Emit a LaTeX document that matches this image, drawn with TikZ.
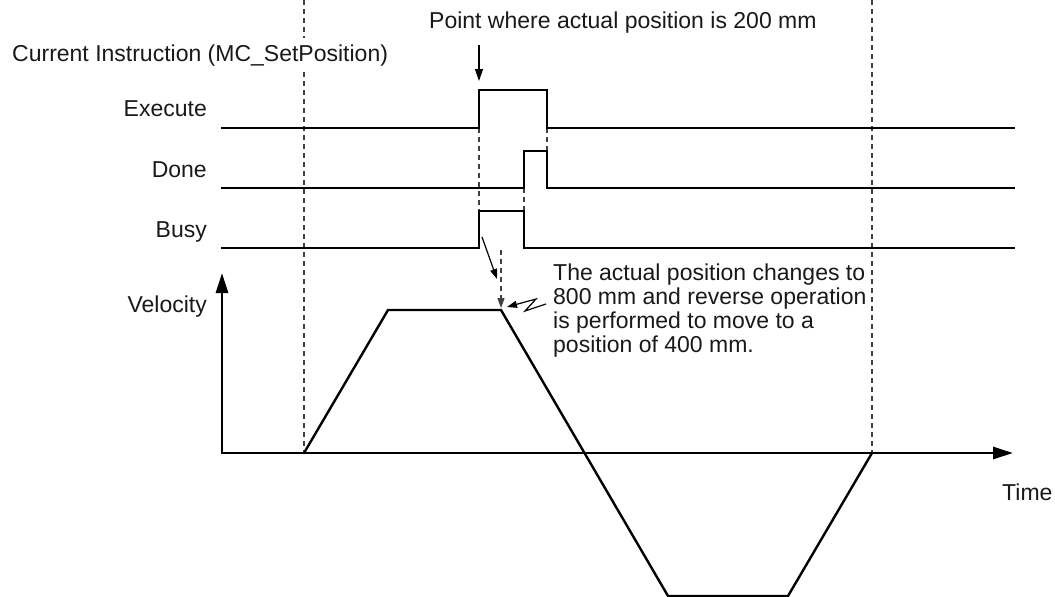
\documentclass[tikz,border=0pt]{standalone}
\usepackage{fontspec}
\setmainfont{Liberation Sans}
\usetikzlibrary{arrows.meta}
\begin{document}
\begin{tikzpicture}[x=1pt,y=-1pt,
  sig/.style={line width=2.4pt, line join=miter},
  axis/.style={line width=2.8pt},
  guide/.style={line width=1.3pt, dash pattern=on 5pt off 4pt, black!75},
  thin/.style={line width=1.2pt},
  lbl/.style={font=\fontsize{23}{24}\selectfont, inner sep=0pt, text=black!90},
  smalltip/.style={-{Triangle[length=10pt,width=7pt]}}]
\useasboundingbox (0,0) rectangle (1055,597);

% coordinates
\coordinate (Vend) at (222,273);
\coordinate (Tend) at (1013,453);
\coordinate (Lt) at (304,0);
\coordinate (Lb) at (304,453);
\coordinate (Rt) at (872,0);
\coordinate (Rb) at (872,453);

% guide lines
\draw[guide] (Lt) -- (Lb);
\draw[guide] (Rt) -- (Rb);
\draw[guide] (479,128) -- (479,211);
\draw[guide] (547,128) -- (547,151);
\draw[guide] (524,188) -- (524,211);

% texts
\node[lbl, anchor=base west, fill=white, inner ysep=6pt] (cur) at (12,61) {Current Instruction (MC\_SetPosition)};
\node[lbl, anchor=base west] (pt) at (429,28) {Point where actual position is 200 mm};
\node[lbl, anchor=base east] (ex) at (207,116) {Execute};
\node[lbl, anchor=base east] (dn) at (207,177) {Done};
\node[lbl, anchor=base east] (bs) at (207,237) {Busy};
\node[lbl, anchor=base east] (vl) at (207,312) {Velocity};
\node[lbl, anchor=base west] (tm) at (1002,500) {Time};
\node[lbl, anchor=north west, align=left] (note) at (553,264) {The actual position changes to\\800 mm and reverse operation\\is performed to move to a\\position of 400 mm.};

% signals
\draw[sig] (221,128) -- (479,128) -- (479,90) -- (547,90) -- (547,128) -- (1015,128);
\draw[sig] (221,188) -- (524,188) -- (524,151) -- (547,151) -- (547,188) -- (1015,188);
\draw[sig] (221,248) -- (479,248) -- (479,211) -- (524,211) -- (524,248) -- (1015,248);

% axes
\draw[axis, {Triangle[length=20pt,width=12pt]}-{Triangle[length=20pt,width=12pt]}] (Vend) |- (Tend);

% velocity profile
\draw[sig] (Lb) -- (388,310) -- (501,310) -- (668,596) -- (788,596) -- (Rb);

% arrows
\coordinate (pa) at (479,45);
\coordinate (pb) at (479,81);
\draw[thin, -{Triangle[length=12pt,width=8pt]}] (pa) -- (pb);
\coordinate (sa) at (482,237);
\coordinate (sb) at (497,279);
\draw[thin, smalltip] (sa) -- (sb);
\coordinate (da) at (501,250);
\coordinate (db) at (501,308);
\draw[guide, line width=1.2pt, -{Triangle[length=10pt,width=7pt]}] (da) -- (db);
\coordinate (za) at (546,304);
\coordinate (zb) at (507,307);
\draw[thin, smalltip] (za) -- (525,311) -- (536,299) -- (zb);
\end{tikzpicture}
\end{document}
